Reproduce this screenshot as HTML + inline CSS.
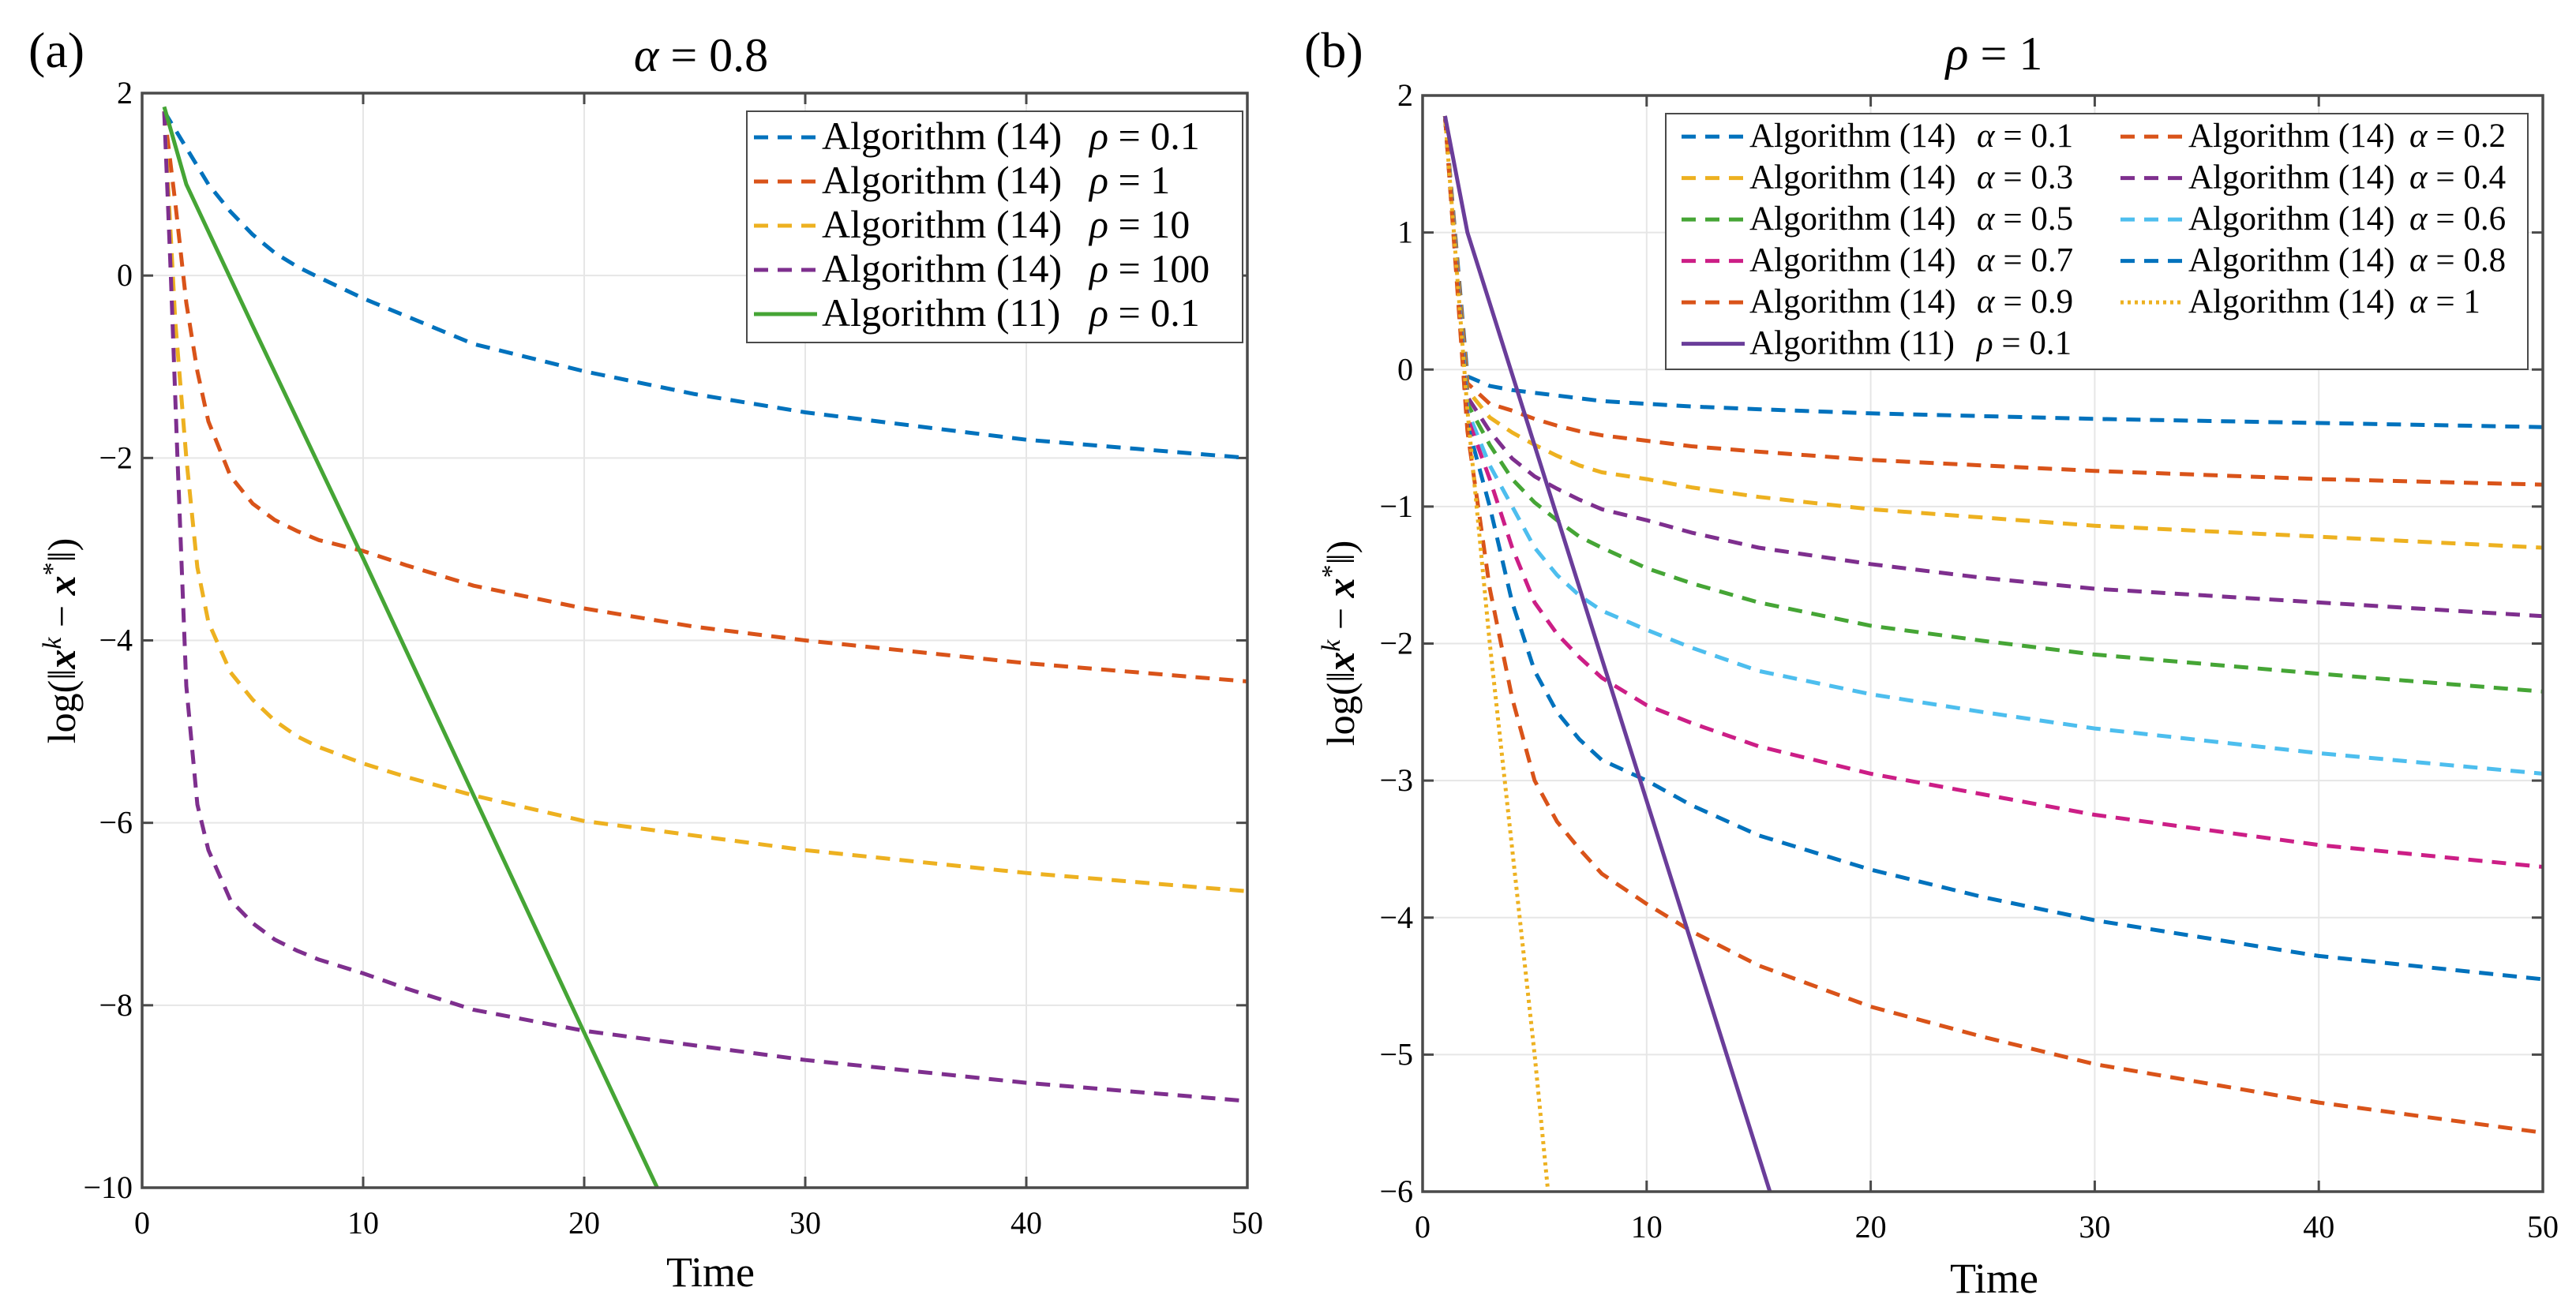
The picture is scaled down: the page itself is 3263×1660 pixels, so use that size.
<!DOCTYPE html>
<html><head><meta charset="utf-8">
<style>
html,body{margin:0;padding:0;background:#fff;}
svg{display:block;font-family:"Liberation Serif",serif;}
</style></head>
<body>
<svg id="fig" width="3263" height="1660" viewBox="0 0 3263 1660" xmlns="http://www.w3.org/2000/svg">
<rect width="3263" height="1660" fill="#fff"/>
<g id="pa"></g>
<g id="pb"></g>
</svg>
<script>
// ---------- data panel (a) ----------
const aXTicks = [0,10,20,30,40,50];
const aYTicks = [2,0,-2,-4,-6,-8,-10];
const aT1 = [1,2,3,4,5,6,7,8,10,12,15,20,25,30,35,40,45,50];
const aRho01 = [1.8,1.4,1.0,0.7,0.45,0.25,0.1,-0.02,-0.25,-0.45,-0.75,-1.05,-1.3,-1.5,-1.65,-1.8,-1.9,-2.0];
const aT2 = [1,1.5,2,2.5,3,4,5,6,7,8,10,12,15,20,25,30,40,50];
const aRho1 = [1.8,0.8,-0.3,-1.05,-1.6,-2.2,-2.5,-2.68,-2.8,-2.9,-3.02,-3.18,-3.4,-3.65,-3.85,-4.0,-4.25,-4.45];
const aT3 = [1,1.5,2,2.5,3,4,5,6,7,8,10,12,15,20,30,40,50];
const aRho10 = [1.8,-0.5,-2.0,-3.2,-3.8,-4.35,-4.65,-4.88,-5.05,-5.17,-5.35,-5.5,-5.7,-5.98,-6.3,-6.55,-6.75];
const aT4 = [1,1.3,1.6,2,2.5,3,4,5,6,7,8,10,12,15,20,30,40,50];
const aRho100 = [1.8,0,-2,-4.5,-5.8,-6.3,-6.85,-7.1,-7.28,-7.4,-7.5,-7.65,-7.82,-8.05,-8.28,-8.6,-8.85,-9.05];
const aT5 = [1,2,5,10,15,20,23.3];
const aAlg11 = [1.85,1.0,-0.55,-3.1,-5.7,-8.3,-10];

// ---------- data panel (b) ----------
const bXTicks = [0,10,20,30,40,50];
const bYTicks = [2,1,0,-1,-2,-3,-4,-5,-6];
const bT = [1,2,3,4,5,6,7,8,10,12,15,20,25,30,40,50];
const bA01 = [1.85,-0.05,-0.12,-0.15,-0.17,-0.19,-0.21,-0.23,-0.25,-0.27,-0.29,-0.32,-0.34,-0.36,-0.39,-0.42];
const bA02 = [1.85,-0.1,-0.25,-0.3,-0.36,-0.41,-0.45,-0.48,-0.52,-0.56,-0.6,-0.66,-0.7,-0.74,-0.8,-0.84];
const bA03 = [1.85,-0.15,-0.35,-0.46,-0.55,-0.63,-0.7,-0.75,-0.8,-0.86,-0.93,-1.02,-1.08,-1.14,-1.22,-1.3];
const bA04 = [1.85,-0.2,-0.45,-0.65,-0.78,-0.87,-0.95,-1.02,-1.1,-1.19,-1.3,-1.42,-1.52,-1.6,-1.7,-1.8];
const bA05 = [1.85,-0.25,-0.55,-0.8,-0.97,-1.1,-1.22,-1.3,-1.45,-1.56,-1.7,-1.87,-1.98,-2.08,-2.22,-2.35];
const bA06 = [1.85,-0.3,-0.7,-1.0,-1.3,-1.5,-1.65,-1.76,-1.9,-2.03,-2.2,-2.37,-2.5,-2.62,-2.8,-2.95];
const bA07 = [1.85,-0.35,-0.8,-1.3,-1.7,-1.93,-2.1,-2.25,-2.45,-2.58,-2.75,-2.95,-3.1,-3.25,-3.47,-3.63];
const bA08 = [1.85,-0.4,-1.0,-1.7,-2.2,-2.5,-2.7,-2.85,-3.0,-3.18,-3.4,-3.65,-3.85,-4.02,-4.28,-4.45];
const bA09 = [1.85,-0.45,-1.6,-2.4,-3.0,-3.3,-3.5,-3.68,-3.9,-4.1,-4.35,-4.65,-4.87,-5.07,-5.35,-5.57];
const bT10 = [1,2,3,4,5,5.6];
const bA10 = [1.85,-0.3,-2.0,-3.5,-5.0,-6];
const bT11 = [1,2,15.5];
const bAlg11 = [1.85,1.0,-6];

const NS="http://www.w3.org/2000/svg";
function mk(parent,tag,attrs){const e=document.createElementNS(NS,tag);for(const k in attrs)e.setAttribute(k,attrs[k]);parent.appendChild(e);return e;}

function axes(g,L,R,T,B,xmin,xmax,ymin,ymax,xt,yt){
  const sx=v=>L+(v-xmin)/(xmax-xmin)*(R-L);
  const sy=v=>B-(v-ymin)/(ymax-ymin)*(B-T);
  xt.forEach(v=>{
    const gl=mk(g,'line',{x1:sx(v),x2:sx(v),y1:T,y2:B,stroke:'#e6e6e6','stroke-width':2});
    
    
    mk(g,'line',{x1:sx(v),x2:sx(v),y1:B,y2:B-14,stroke:'#4a4a4a','stroke-width':3});
    mk(g,'line',{x1:sx(v),x2:sx(v),y1:T,y2:T+14,stroke:'#4a4a4a','stroke-width':3});
    const t=mk(g,'text',{x:sx(v),y:B+58,'font-size':40,'text-anchor':'middle',fill:'#000'});
    t.textContent=v;
    
    
  });
  yt.forEach(v=>{
    const gl=mk(g,'line',{x1:L,x2:R,y1:sy(v),y2:sy(v),stroke:'#e6e6e6','stroke-width':2});
    
    
    mk(g,'line',{x1:L,x2:L+14,y1:sy(v),y2:sy(v),stroke:'#4a4a4a','stroke-width':3});
    mk(g,'line',{x1:R,x2:R-14,y1:sy(v),y2:sy(v),stroke:'#4a4a4a','stroke-width':3});
    const t=mk(g,'text',{x:L-12,y:sy(v)+13,'font-size':40,'text-anchor':'end',fill:'#000'});
    t.textContent=(v<0?'\u2212'+(-v):v);
    
    
  });
  return {sx,sy};
}
function frame(g,L,R,T,B){
  const f=mk(g,'rect',{x:L,y:T,width:R-L,height:B-T,fill:'none',stroke:'#4a4a4a','stroke-width':3.5});
  
  
}
function series(g,clipId,s,xs,ys,color,dash,name){
  const pts=xs.map((x,i)=>s.sx(x).toFixed(1)+','+s.sy(ys[i]).toFixed(1)).join(' ');
  const a={points:pts,fill:'none',stroke:color,'stroke-width':5,'stroke-linejoin':'round','clip-path':'url(#'+clipId+')'};
  if(dash)a['stroke-dasharray']=dash;
  const p=mk(g,'polyline',a);
  
  
}
function legendEntry(g,x,y,color,dash,alg,sym,val,fs,lineLen,symX,name){
  const a={x1:x,x2:x+lineLen,y1:y-fs*0.3,y2:y-fs*0.3,stroke:color,'stroke-width':5};
  if(dash)a['stroke-dasharray']=dash;
  const l=mk(g,'line',a);
  const t=mk(g,'text',{x:x+lineLen+6,y:y,'font-size':fs,fill:'#000'});
  t.textContent=alg;
  const t2=mk(g,'text',{x:symX,y:y,'font-size':fs,fill:'#000'});
  t2.innerHTML='<tspan font-style="italic">'+sym+'</tspan> = '+val;
  
  
  
  
  
  
}
const defs=mk(document.getElementById('fig'),'defs',{});
const C={blue:'#0072BD',orange:'#D95319',yellow:'#EDB120',purple:'#7E2F8E',green:'#45A535',cyan:'#4DBEEE',magenta:'#CC1E86',solidPurple:'#6A3D9A'};
const DASH='18 12';

// ---------- panel a ----------
(function(){
  const g=document.getElementById('pa');
  const L=180,R=1580,T=118,B=1505;
  const cp=mk(defs,'clipPath',{id:'ca'});mk(cp,'rect',{x:L,y:T,width:R-L,height:B-T});
  const s=axes(g,L,R,T,B,0,50,-10,2,aXTicks,aYTicks);
  series(g,'ca',s,aT1,aRho01,C.blue,DASH,'line-alg14-rho-0.1');
  series(g,'ca',s,aT2,aRho1,C.orange,DASH,'line-alg14-rho-1');
  series(g,'ca',s,aT3,aRho10,C.yellow,DASH,'line-alg14-rho-10');
  series(g,'ca',s,aT4,aRho100,C.purple,DASH,'line-alg14-rho-100');
  series(g,'ca',s,aT5,aAlg11,C.green,null,'line-alg11-rho-0.1');
  frame(g,L,R,T,B);
  const lg=mk(g,'g',{});
  
  
  mk(lg,'rect',{x:946,y:141,width:628,height:293,fill:'#fff',stroke:'#4a4a4a','stroke-width':2});
  const rows=[[C.blue,DASH,'Algorithm (14)','0.1'],[C.orange,DASH,'Algorithm (14)','1'],[C.yellow,DASH,'Algorithm (14)','10'],[C.purple,DASH,'Algorithm (14)','100'],[C.green,null,'Algorithm (11)','0.1']];
  rows.forEach((r,i)=>legendEntry(lg,955,189+i*56,r[0],r[1],r[2],'ρ',r[3],50,80,1380,'legend-entry-a'+(i+1)));
  const t=mk(g,'text',{x:888,y:90,'font-size':60,'text-anchor':'middle'});t.innerHTML='<tspan font-style="italic">α</tspan> = 0.8';
  
  const p=mk(g,'text',{x:36,y:85,'font-size':64});p.textContent='(a)';
  
  const xl=mk(g,'text',{x:900,y:1630,'font-size':54,'text-anchor':'middle'});xl.textContent='Time';
  
  const yl=mk(g,'text',{x:0,y:0,'font-size':50,'text-anchor':'middle',transform:'translate(95,812) rotate(-90)'});
  yl.innerHTML='log(‖<tspan font-style="italic" font-weight="bold">x</tspan><tspan font-style="italic" dy="-18" font-size="34">k</tspan><tspan dy="18"> − </tspan><tspan font-style="italic" font-weight="bold">x</tspan><tspan dy="-18" font-size="34">*</tspan><tspan dy="18">‖)</tspan>';
  
})();

// ---------- panel b ----------
(function(){
  const g=document.getElementById('pb');
  const L=1802,R=3221,T=121,B=1510;
  const cp=mk(defs,'clipPath',{id:'cb'});mk(cp,'rect',{x:L,y:T,width:R-L,height:B-T});
  const s=axes(g,L,R,T,B,0,50,-6,2,bXTicks,bYTicks);
  const ser=[[bA01,C.blue],[bA02,C.orange],[bA03,C.yellow],[bA04,C.purple],[bA05,C.green],[bA06,C.cyan],[bA07,C.magenta],[bA08,C.blue],[bA09,C.orange]];
  ser.forEach((r,i)=>series(g,'cb',s,bT,r[0],r[1],DASH,'line-alg14-alpha-0.'+(i+1)));
  series(g,'cb',s,bT10,bA10,C.yellow,'4 5','line-alg14-alpha-1');
  series(g,'cb',s,bT11,bAlg11,C.solidPurple,null,'line-alg11-rho-0.1');
  frame(g,L,R,T,B);
  const lg=mk(g,'g',{});
  
  
  mk(lg,'rect',{x:2110,y:144,width:1092,height:324,fill:'#fff',stroke:'#4a4a4a','stroke-width':2});
  const left=[[C.blue,DASH,'Algorithm (14)','α','0.1'],[C.yellow,DASH,'Algorithm (14)','α','0.3'],[C.green,DASH,'Algorithm (14)','α','0.5'],[C.magenta,DASH,'Algorithm (14)','α','0.7'],[C.orange,DASH,'Algorithm (14)','α','0.9'],[C.solidPurple,null,'Algorithm (11)','ρ','0.1']];
  const right=[[C.orange,DASH,'Algorithm (14)','α','0.2'],[C.purple,DASH,'Algorithm (14)','α','0.4'],[C.cyan,DASH,'Algorithm (14)','α','0.6'],[C.blue,DASH,'Algorithm (14)','α','0.8'],[C.yellow,'4 5','Algorithm (14)','α','1']];
  left.forEach((r,i)=>legendEntry(lg,2130,186+i*52.5,r[0],r[1],r[2],r[3],r[4],43,80,2504,'legend-entry-b-left'+(i+1)));
  right.forEach((r,i)=>legendEntry(lg,2686,186+i*52.5,r[0],r[1],r[2],r[3],r[4],43,80,3052,'legend-entry-b-right'+(i+1)));
  const t=mk(g,'text',{x:2526,y:88,'font-size':60,'text-anchor':'middle'});t.innerHTML='<tspan font-style="italic">ρ</tspan> = 1';
  
  const p=mk(g,'text',{x:1652,y:85,'font-size':64});p.textContent='(b)';
  
  const xl=mk(g,'text',{x:2526,y:1638,'font-size':54,'text-anchor':'middle'});xl.textContent='Time';
  
  const yl=mk(g,'text',{x:0,y:0,'font-size':50,'text-anchor':'middle',transform:'translate(1715,815) rotate(-90)'});
  yl.innerHTML='log(‖<tspan font-style="italic" font-weight="bold">x</tspan><tspan font-style="italic" dy="-18" font-size="34">k</tspan><tspan dy="18"> − </tspan><tspan font-style="italic" font-weight="bold">x</tspan><tspan dy="-18" font-size="34">*</tspan><tspan dy="18">‖)</tspan>';
  
})();
</script>
</body></html>
